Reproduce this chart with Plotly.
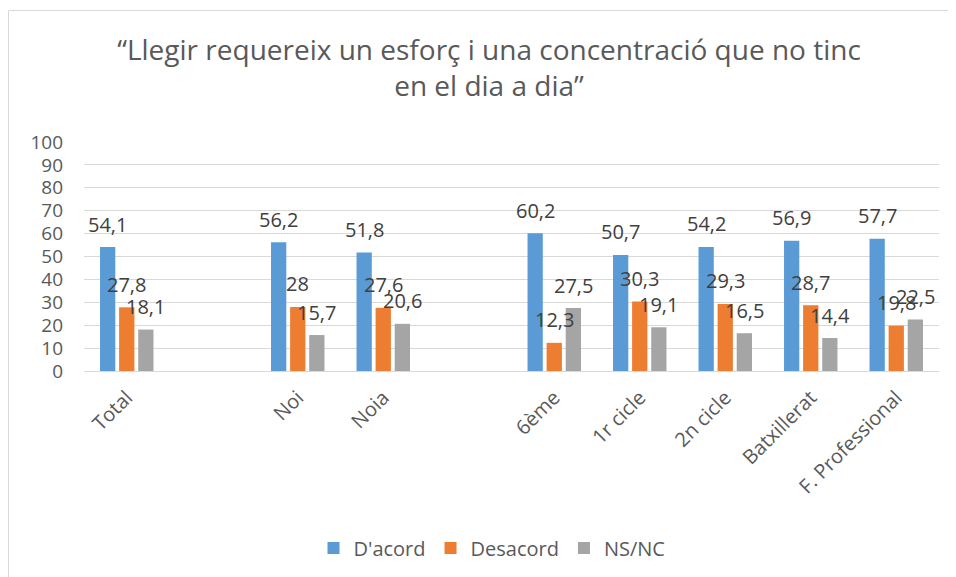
import plotly.graph_objects as go

# categories (blank entries make the gaps between groups)
categories = ["Total", " ", "Noi", "Noia", "  ", "6ème", "1r cicle", "2n cicle",
              "Batxillerat", "F. Professional"]
dacord = [54.1, None, 56.2, 51.8, None, 60.2, 50.7, 54.2, 56.9, 57.7]
desacord = [27.8, None, 28, 27.6, None, 12.3, 30.3, 29.3, 28.7, 19.8]
nsnc = [18.1, None, 15.7, 20.6, None, 27.5, 19.1, 16.5, 14.4, 22.5]

series = [
    ("D'acord", dacord, "#5B9BD5"),
    ("Desacord", desacord, "#ED7D31"),
    ("NS/NC", nsnc, "#A5A5A5"),
]

FONT = "Open Sans"
GREY = "#595959"


def fmt(v):
    return f"{v:g}".replace(".", ",")


# figure is drawn 8px in from the page corner (body margin)
W, H = 956, 577
ml, mt, pw, ph = 76, 134, 855, 229
mr, mb = W - ml - pw, H - mt - ph
BARGAP, GROUPGAP = 0.33, 0.2


def px_x(fx):
    return (fx - ml) / pw


def px_y(fy):
    return (mt + ph - fy) / ph


fig = go.Figure()
slot = pw / len(categories)
step = slot * (1 - BARGAP) / len(series)
for i, (name, vals, color) in enumerate(series):
    fig.add_trace(go.Bar(
        x=categories, y=vals, name=name,
        marker=dict(color=color, line=dict(width=0)),
    ))
    # data labels, sitting above each bar
    for cat, v in zip(categories, vals):
        if v is None:
            continue
        fig.add_annotation(
            x=cat, y=v, xref="x", yref="y", text=fmt(v), showarrow=False,
            xanchor="center", yanchor="middle",
            xshift=(i - 1) * step, yshift=23,
            font=dict(family=FONT, size=20, color="#404040"),
        )

fig.update_layout(
    width=W, height=H,
    margin=dict(l=ml, r=mr, t=mt, b=mb),
    paper_bgcolor="white", plot_bgcolor="white",
    barmode="group", bargap=BARGAP, bargroupgap=GROUPGAP,
    title=dict(
        text="“Llegir requereix un esforç i una concentració que no tinc<br>en el dia a dia”",
        x=481 / W, xanchor="center", y=1 - 52 / H, yanchor="top",
        font=dict(family=FONT, size=28, color=GREY),
    ),
    legend=dict(
        orientation="h", x=px_x(484), xanchor="center",
        y=px_y(540), yanchor="middle",
        font=dict(family=FONT, size=20, color=GREY),
        traceorder="normal",
    ),
    font=dict(family=FONT, color=GREY),
)

fig.update_xaxes(
    type="category", categoryorder="array", categoryarray=categories,
    showgrid=False, showline=False, ticks="", ticklabelstandoff=10,
    tickangle=-45, tickfont=dict(family=FONT, size=20, color=GREY),
)
fig.update_yaxes(
    range=[0, 100], dtick=10, showgrid=True, gridcolor="#D9D9D9", gridwidth=1,
    zeroline=True, zerolinecolor="#D9D9D9", zerolinewidth=1,
    showline=False, ticks="", ticklabelstandoff=20,
    tickfont=dict(family=FONT, size=19, color=GREY),
)

# chart-area border (only the top and left edges fall inside the view)
fig.add_shape(
    type="rect", xref="paper", yref="paper",
    x0=px_x(0.5), x1=px_x(W + 5), y0=px_y(H + 5), y1=px_y(2.5),
    line=dict(color="#D9D9D9", width=1), fillcolor="rgba(0,0,0,0)", layer="below",
)

fig.write_html("out.html")
